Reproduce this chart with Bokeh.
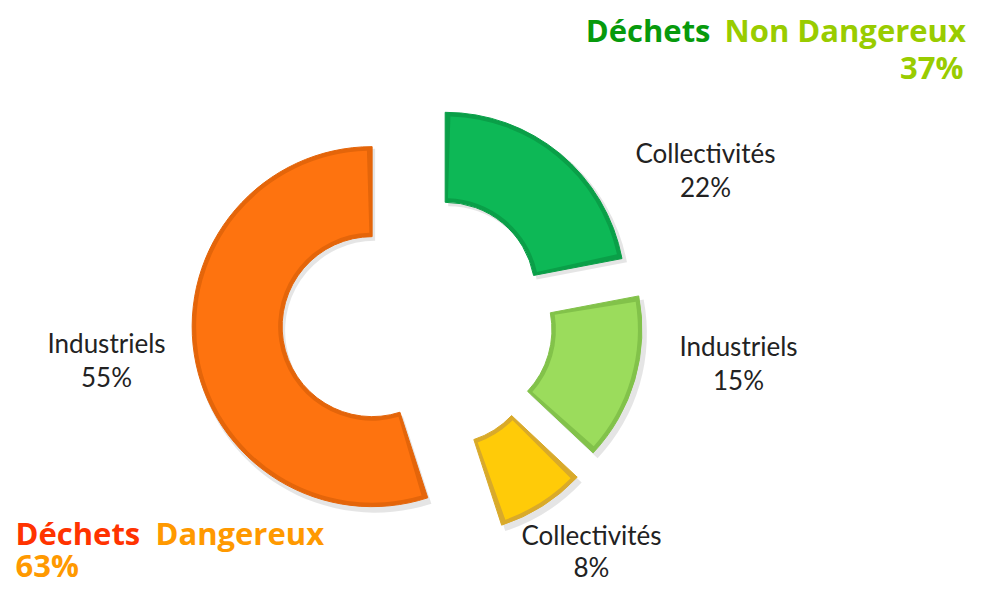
import math
from bokeh.plotting import figure
from bokeh.models import Range1d, ColumnDataSource
from bokeh.core.properties import value
from bokeh.embed import file_html
from bokeh.resources import INLINE

# ---------------- data ----------------
categories = ["Collectivités", "Industriels", "Collectivités", "Industriels"]
shares = [22, 15, 8, 55]                      # % of total, clockwise from 12 o'clock
group_prefix = "Déchets"
group_names = ["Non Dangereux", "Dangereux"]
group_totals = [37, 63]

# ---------------- style / layout ----------------
W, H = 967, 586          # fits the 983x602 window with the 8px page margin
fills = ["#0DB856", "#9BDC5C", "#FFCB08", "#FE730F"]
rims = ["#0A9F48", "#82C24A", "#D9AA2A", "#E4650A"]
explode = [34, 40, 42, 52]
cx, cy = 423, H - 318
r_in, r_out = 90, 180
label_pos = [(705, 163), (738, 356), (591, 545), (106, 353)]  # pixel coords (first line baseline)
line_gaps = [34, 34, 32, 34]
label_size, title_size = 26, 31
label_shift = 11   # empirical correction of the rendered baseline
title_shift = 13
label_font = value("Lato")
title_font = value("Open Sans")

p = figure(width=W, height=H, x_range=Range1d(0, W), y_range=Range1d(0, H),
           output_backend="svg", toolbar_location=None, min_border=0,
           x_axis_location=None, y_axis_location=None)
p.grid.visible = False
p.outline_line_color = None
p.background_fill_color = "white"
p.border_fill_color = "white"

# compute slice geometry
xs, ys, starts, ends = [], [], [], []
cum = 0.0
for s, d in zip(shares, explode):
    t1 = cum / 100 * 360
    t2 = (cum + s) / 100 * 360
    tm = math.radians((t1 + t2) / 2)
    xs.append(cx + d * math.sin(tm))
    ys.append(cy + d * math.cos(tm))
    starts.append(math.radians(90 - t2))
    ends.append(math.radians(90 - t1))
    cum += s

src = ColumnDataSource(dict(x=xs, y=ys, start=starts, end=ends, fill=fills, rim=rims,
                            sx=[x + 3 for x in xs], sy=[y - 4 for y in ys]))

# soft shadow
p.annular_wedge(x="sx", y="sy", inner_radius=r_in, outer_radius=r_out + 2,
                start_angle="start", end_angle="end", fill_color="#000000", fill_alpha=0.10,
                line_color=None, source=src)
# rim (bevel edge)
p.annular_wedge(x="x", y="y", inner_radius=r_in, outer_radius=r_out,
                start_angle="start", end_angle="end", fill_color="rim",
                line_color="rim", line_width=1, source=src)
# face
inset = 4
da = inset / ((r_in + r_out) / 2)
src2 = ColumnDataSource(dict(x=xs, y=ys, start=[a + da for a in starts], end=[a - da for a in ends],
                             fill=fills))
p.annular_wedge(x="x", y="y", inner_radius=r_in + inset, outer_radius=r_out - inset,
                start_angle="start", end_angle="end", fill_color="fill",
                line_color=None, source=src2)

# category labels
lx = [lp[0] for lp in label_pos]
ly1 = [H - lp[1] + label_shift for lp in label_pos]
ly2 = [H - lp[1] - g + label_shift for lp, g in zip(label_pos, line_gaps)]
p.text(x=lx, y=ly1, text=categories, text_align="center", text_baseline="alphabetic",
       text_font=label_font, text_font_size=f"{label_size}px", text_color="#222222")
p.text(x=lx, y=ly2, text=[f"{s}%" for s in shares], text_align="center",
       text_baseline="alphabetic", text_font=label_font, text_font_size=f"{label_size}px",
       text_color="#222222")

# group titles
tkw = dict(text_baseline="alphabetic", text_font=title_font, text_font_style="bold",
           text_font_size=f"{title_size}px")
def ty(y):
    return H - y + title_shift

p.text(x=[710], y=[ty(42)], text=[group_prefix], text_align="right", text_color="#079A0C", **tkw)
p.text(x=[724], y=[ty(42)], text=[group_names[0]], text_align="left", text_color="#99CC00", **tkw)
p.text(x=[963], y=[ty(79)], text=[f"{group_totals[0]}%"], text_align="right", text_color="#99CC00", **tkw)

p.text(x=[15], y=[ty(545)], text=[group_prefix], text_align="left", text_color="#FF3300", **tkw)
p.text(x=[155], y=[ty(545)], text=[group_names[1]], text_align="left", text_color="#FF9900", **tkw)
p.text(x=[15], y=[ty(577)], text=[f"{group_totals[1]}%"], text_align="left", text_color="#FF9900", **tkw)

open("out.html", "w").write(file_html(p, INLINE))
